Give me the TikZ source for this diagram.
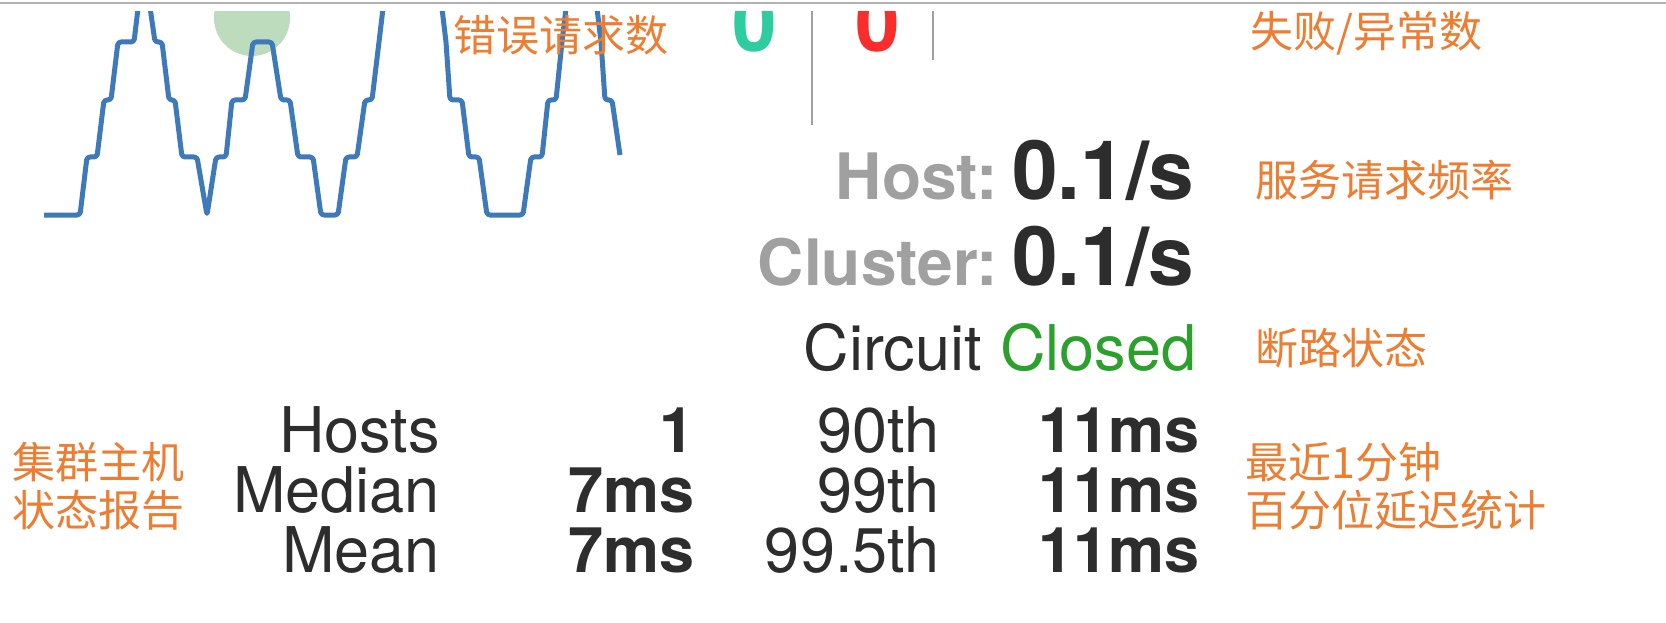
\documentclass[tikz,border=0pt]{standalone}
\usepackage{fontspec}
\setmainfont{TeX Gyre Heros}
\newfontfamily\cjk{Noto Sans CJK SC}
\usetikzlibrary{
  positioning, % for placing each value after its label
}
\definecolor{notecol}{RGB}{237,125,49}
\definecolor{darkcol}{RGB}{45,45,45}
\definecolor{greycol}{RGB}{160,160,160}
\definecolor{okcol}{RGB}{44,160,44}
\definecolor{tealcol}{RGB}{45,205,160}
\definecolor{redcol}{RGB}{250,45,45}
\definecolor{wavecol}{RGB}{62,122,186}
\tikzset{
  note/.style={ % orange remarks round the panel
    text=notecol,
    font={\cjk\fontsize{43}{48}\selectfont},
    inner sep=0pt, % no padding, so the coordinates are the text edges
    anchor=west,
    align=left,
  },
  metric/.style={ % grey bold labels of the rates
    text=greycol,
    font={\bfseries\fontsize{64}{70}\selectfont},
    inner sep=0pt,
  },
  rate/.style={ % big dark values of the rates
    text=darkcol,
    font={\bfseries\fontsize{82}{88}\selectfont},
    inner sep=0pt,
  },
  stat/.style={ % plain names in the table
    text=darkcol,
    font={\fontsize{63}{70}\selectfont},
    inner sep=0pt,
    anchor=base east,
  },
  num/.style={ % bold numbers in the table
    stat,
    font={\bfseries\fontsize{63}{70}\selectfont},
  },
  count/.style={ % big counters at the top
    font={\bfseries\fontsize{80}{88}\selectfont},
    inner sep=0pt,
    anchor=base,
  },
  wave/.style={ % the request curve
    draw=wavecol,
    line width=5pt,
    rounded corners=3pt,
    line join=round,
  },
  sep/.style={ % thin grey separators
    draw=greycol,
    line width=2.5pt,
  },
}

\begin{document}
\begin{tikzpicture}[x=1pt,y=-1pt]

	\useasboundingbox (0,0) rectangle (1666,623);
	\fill[white] (0,0) rectangle (1666,623);
	\draw[draw=black!30,line width=2pt] (0,3) -- (1666,3);

	\begin{scope}
		\clip (0,12) rectangle (1666,623);
		\fill[green!30!gray!40] (252,18) circle (38);

		\draw[wave] (44,215) -- (80,215) -- (87,157) -- (97,157) -- (104,100) -- (111,100) -- (118,42) -- (134,42) -- (139,0) -- (144,-40) -- (149,0) -- (155,42) -- (162,42) -- (169,100) -- (175,100) -- (182,157) -- (197,157) -- (207,215) -- (216,157) -- (226,157) -- (232,100) -- (245,100) -- (253,42) -- (272,42) -- (281,100) -- (290,100) -- (298,157) -- (313,157) -- (321,215) -- (338,215) -- (346,157) -- (357,157) -- (365,100) -- (372,100) -- (379,42) -- (384,0) -- (388,-40);
		\draw[wave] (437,-40) -- (441,0) -- (446,42) -- (450,100) -- (462,100) -- (469,157) -- (479,157) -- (487,215) -- (523,215) -- (531,157) -- (542,157) -- (548,100) -- (556,100) -- (562,42) -- (567,0) -- (570,-40);
		\draw[wave] (592,-40) -- (596,0) -- (601,42) -- (605,100) -- (612,100) -- (620,155);

		\node[count,text=tealcol] (ok) at (755,52) {0};
		\node[count,text=redcol] (fail) at (878,52) {0};
		\draw[sep] (812,0) -- (812,125);
		\draw[sep] (933,0) -- (933,60);
	\end{scope}

	\node[note] (errnote) at (453,35) {错误请求数};
	\node[note] (failnote) at (1250,33) {失败/异常数};

	\node[metric,anchor=base east] (host) at (998,200) {Host:};
	\node[rate,base right=14pt of host] (hostval) {0.1/s};
	\node[note] (ratenote) at (1255,180) {服务请求频率};

	\node[metric,anchor=base east] (cluster) at (998,285) {Cluster:};
	\node[rate,base right=14pt of cluster] (clusterval) {0.1/s};

	\node[stat] (circuit) at (982,370) {Circuit};
	\node[stat,anchor=base west,text=okcol,base right=18pt of circuit] (closed) {Closed};
	\node[note] (circnote) at (1255,348) {断路状态};

	\node[stat] (hosts) at (440,452) {Hosts};
	\node[stat] (median) at (440,512) {Median};
	\node[stat] (mean) at (440,572) {Mean};

	\node[num] (hostsval) at (695,452) {1};
	\node[num] (medianval) at (695,512) {7ms};
	\node[num] (meanval) at (695,572) {7ms};

	\node[stat] (p90) at (940,452) {90th};
	\node[stat] (p99) at (940,512) {99th};
	\node[stat] (p995) at (940,572) {99.5th};

	\node[num] (p90val) at (1200,452) {11ms};
	\node[num] (p99val) at (1200,512) {11ms};
	\node[num] (p995val) at (1200,572) {11ms};

	\node[note] (hostnote) at (12,486) {集群主机\\状态报告};
	\node[note] (latnote) at (1245,486) {最近1分钟\\百分位延迟统计};

\end{tikzpicture}
\end{document}
